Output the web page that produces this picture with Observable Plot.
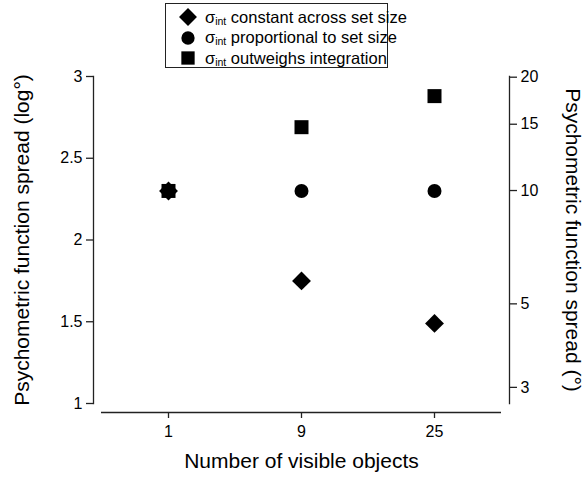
<!DOCTYPE html>
<html>
<head>
<meta charset="utf-8">
<script src="https://cdn.jsdelivr.net/npm/d3@7"></script>
<script src="https://cdn.jsdelivr.net/npm/@observablehq/plot@0.6"></script>
<style>
  html, body { margin: 0; padding: 0; background: #fff; }
  #wrap { position: relative; width: 584px; height: 481px; font-family: "Liberation Sans", Arial, sans-serif; }
  #legend { position: absolute; left: 165px; top: 3px; width: 223px; height: 65px; border: 1px solid #222; box-sizing: border-box; background: #fff; }
  .row { position: absolute; left: 0; height: 20px; display: flex; align-items: center; font-size: 16.5px; color: #000; white-space: nowrap; }
  .row svg { position: absolute; left: 12px; top: 0; }
  .row span.t { position: absolute; left: 39px; }
  sub { font-size: 10.5px; vertical-align: -2px; line-height: 0; }
</style>
</head>
<body>
<div id="wrap"><div id="chart"></div><div id="legend"></div></div>
<script>
// ---- data ----
const setSizes = ["1", "9", "25"];
const constantSpread = [2.3, 1.75, 1.49];     // σint constant across set size (diamond)
const proportionalSpread = [2.3, 2.3, 2.3];   // σint proportional to set size (circle)
const outweighsSpread = [2.3, 2.69, 2.88];    // σint outweighs integration (square)
const leftTicks = [1, 1.5, 2, 2.5, 3];
const rightTicks = [3, 5, 10, 15, 20];
const seriesNames = ["constant across set size", "proportional to set size", "outweighs integration"];
const seriesSymbols = ["diamond2", "circle", "square"];
const xLabel = "Number of visible objects";
const yLabelLeft = "Psychometric function spread (log°)";
const yLabelRight = "Psychometric function spread (°)";

const series = [constantSpread, proportionalSpread, outweighsSpread];
const points = series.flatMap((vals, s) => vals.map((v, i) => ({size: setSizes[i], value: v, series: seriesNames[s]})));

const ink = "#222";
const symbolR = {"diamond2": 8.5, "circle": 7, "square": 7.9};

const plot = Plot.plot({
  width: 584,
  height: 481,
  marginLeft: 93,
  marginRight: 75,
  marginTop: 76,
  marginBottom: 78,
  style: {fontFamily: "'Liberation Sans', Arial, sans-serif", color: "#000", background: "transparent", fontSize: "16px"},
  x: {type: "point", domain: setSizes, insetLeft: 8, insetRight: 8},
  y: {domain: [1, 3]},
  marks: [
    Plot.frame({anchor: "left", stroke: ink, strokeWidth: 1.3}),
    Plot.frame({anchor: "right", stroke: ink, strokeWidth: 1.3}),
    Plot.ruleY([1], {dy: 9, insetLeft: 8, insetRight: 8, stroke: ink, strokeWidth: 1.3}),
    Plot.axisY(leftTicks, {anchor: "left", tickSize: 7, tickPadding: 4, fontSize: 16, label: null, tickFormat: d => String(d), stroke: ink, strokeWidth: 1.3, fill: "#000"}),
    Plot.axisY(rightTicks.map(Math.log), {anchor: "right", tickSize: 7, tickPadding: 4, fontSize: 16, label: null, tickFormat: d => String(Math.round(Math.exp(d))), stroke: ink, strokeWidth: 1.3, fill: "#000"}),
    Plot.axisX({anchor: "bottom", dy: 9, tickSize: 6, tickPadding: 7, fontSize: 16, label: null, stroke: ink, strokeWidth: 1.3, fill: "#000"}),
    Plot.text([xLabel], {frameAnchor: "bottom", dy: 64, text: d => d, fontSize: 21, fill: "#000"}),
    Plot.text([yLabelLeft], {frameAnchor: "left", textAnchor: "middle", dx: -71, rotate: -90, text: d => d, fontSize: 21, fill: "#000"}),
    Plot.text([yLabelRight], {frameAnchor: "right", textAnchor: "middle", dx: 63, rotate: 90, text: d => d, fontSize: 21, fill: "#000"}),
    ...seriesNames.map((name, s) => Plot.dot(points.filter(d => d.series === name), {
      x: "size", y: "value", symbol: () => seriesSymbols[s], r: symbolR[seriesSymbols[s]], fill: "#000", stroke: "none"
    }))
  ]
});
document.getElementById("chart").appendChild(plot);

// ---- legend ----
const legend = document.getElementById("legend");
const symbolMap = {"diamond2": d3.symbolDiamond2, "circle": d3.symbolCircle, "square": d3.symbolSquare};
seriesNames.forEach((name, s) => {
  const row = document.createElement("div");
  row.className = "row";
  row.style.top = (3 + s * 20.5) + "px";
  const r = symbolR[seriesSymbols[s]] * 0.95;
  const path = d3.symbol(symbolMap[seriesSymbols[s]], Math.PI * r * r)();
  row.innerHTML = `<svg width="20" height="20" viewBox="-10 -10 20 20"><path d="${path}" fill="#000"/></svg><span class="t">σ<sub>int</sub> ${name}</span>`;
  legend.appendChild(row);
});
</script>
</body>
</html>
